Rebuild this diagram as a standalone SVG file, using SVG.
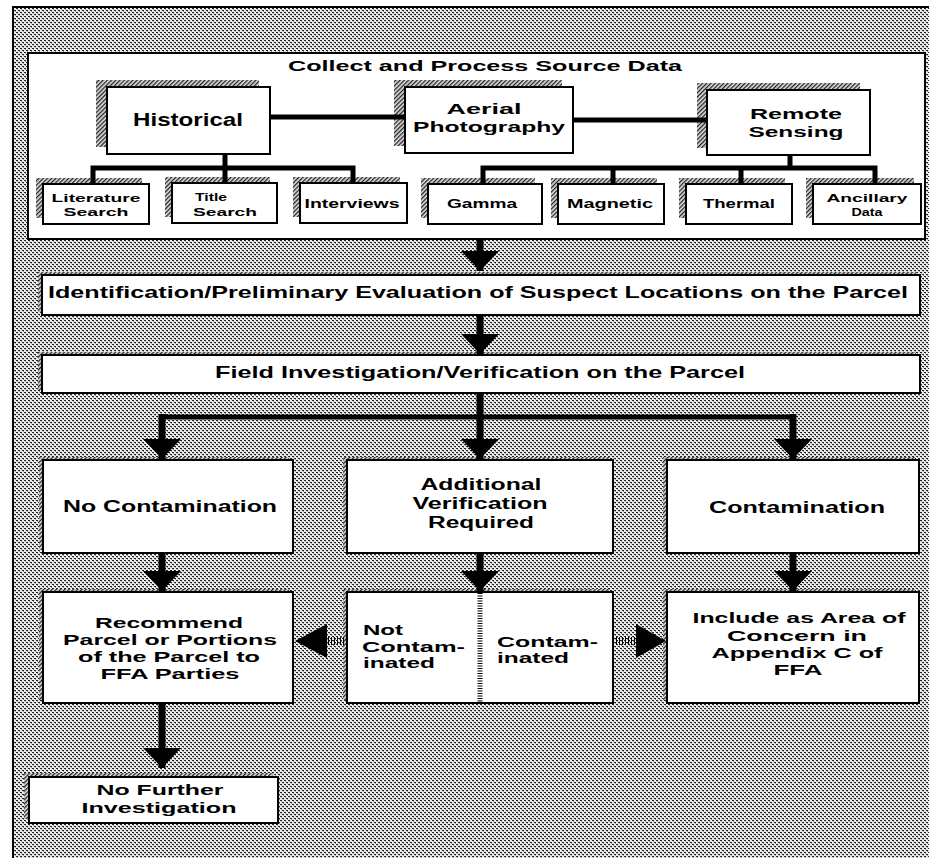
<svg xmlns="http://www.w3.org/2000/svg" width="929" height="858" viewBox="0 0 929 858">
<defs>
<pattern id="dots" width="4" height="4" patternUnits="userSpaceOnUse">
<rect width="4" height="4" fill="#ececec"/>
<rect x="0" y="0" width="2" height="1" fill="#222"/>
<rect x="2" y="2" width="2" height="1" fill="#222"/>
<rect x="1" y="1" width="1" height="1" fill="#999"/>
<rect x="3" y="3" width="1" height="1" fill="#999"/>
</pattern>
<pattern id="hatch" width="3" height="3" patternUnits="userSpaceOnUse" patternTransform="rotate(45)">
<rect width="3" height="3" fill="#e0e0e0"/>
<rect width="1.3" height="3" fill="#222"/>
</pattern>
<marker id="ah" viewBox="0 0 20 38" refX="20" refY="19" markerWidth="20" markerHeight="38" markerUnits="userSpaceOnUse" orient="auto">
<path d="M0,0 L20,19 L0,38 Z" fill="#000"/>
</marker>
</defs>
<style>
.box{fill:#fff;stroke:#000;stroke-width:2}
.sh{fill:url(#hatch)}
.t{font-family:"Liberation Sans",Arial,sans-serif;font-weight:bold;fill:#000;text-anchor:middle}
.tl{font-family:"Liberation Sans",Arial,sans-serif;font-weight:bold;fill:#000}
.ln{fill:none;stroke:#000;stroke-width:5}
.ar{fill:none;stroke:#000;stroke-width:7}
.dot{fill:none;stroke:#000;stroke-width:8;stroke-dasharray:1 2}
</style>
<rect x="0" y="0" width="929" height="858" fill="#fff"/>
<rect x="13" y="7" width="920" height="860" fill="url(#dots)" stroke="#000" stroke-width="2"/>

<g id="source-data">
<rect x="28" y="53" width="897" height="186" class="box"/>
<text x="485" y="71" class="t" font-size="15.5" textLength="394" lengthAdjust="spacingAndGlyphs">Collect and Process Source Data</text>
</g>

<g id="historical">
<rect x="96" y="80" width="163" height="67" class="sh"/>
<rect x="107" y="87" width="163" height="67" class="box"/>
<text x="188" y="126" class="t" font-size="17.5" textLength="110" lengthAdjust="spacingAndGlyphs">Historical</text>
</g>
<g id="aerial">
<rect x="394" y="80" width="168" height="66" class="sh"/>
<rect x="405" y="87" width="168" height="66" class="box"/>
<text x="484" y="114" class="t" font-size="15.5" textLength="75" lengthAdjust="spacingAndGlyphs">Aerial</text>
<text x="489" y="132" class="t" font-size="15.5" textLength="152" lengthAdjust="spacingAndGlyphs">Photography</text>
</g>
<g id="remote">
<rect x="697" y="83" width="163" height="65" class="sh"/>
<rect x="707" y="90" width="163" height="65" class="box"/>
<text x="796" y="119" class="t" font-size="15.5" textLength="92" lengthAdjust="spacingAndGlyphs">Remote</text>
<text x="796" y="137" class="t" font-size="15.5" textLength="95" lengthAdjust="spacingAndGlyphs">Sensing</text>
</g>

<g id="literature">
<rect x="36" y="178" width="106" height="40" class="sh"/>
<rect x="43" y="184" width="106" height="40" class="box"/>
<text x="96" y="202" class="t" font-size="11.5" textLength="89" lengthAdjust="spacingAndGlyphs">Literature</text>
<text x="96" y="216" class="t" font-size="11.5" textLength="65" lengthAdjust="spacingAndGlyphs">Search</text>
</g>
<g id="title">
<rect x="165" y="177" width="105" height="40" class="sh"/>
<rect x="172" y="183" width="105" height="40" class="box"/>
<text x="211" y="201" class="t" font-size="11.5" textLength="32" lengthAdjust="spacingAndGlyphs">Title</text>
<text x="225" y="216" class="t" font-size="11.5" textLength="64" lengthAdjust="spacingAndGlyphs">Search</text>
</g>
<g id="interviews">
<rect x="293" y="177" width="107" height="40" class="sh"/>
<rect x="300" y="183" width="107" height="40" class="box"/>
<text x="352" y="208" class="t" font-size="12.5" textLength="95" lengthAdjust="spacingAndGlyphs">Interviews</text>
</g>
<g id="gamma">
<rect x="421" y="178" width="114" height="40" class="sh"/>
<rect x="428" y="184" width="114" height="40" class="box"/>
<text x="482" y="208" class="t" font-size="12.5" textLength="70" lengthAdjust="spacingAndGlyphs">Gamma</text>
</g>
<g id="magnetic">
<rect x="551" y="178" width="106" height="40" class="sh"/>
<rect x="558" y="184" width="106" height="40" class="box"/>
<text x="610" y="208" class="t" font-size="12.5" textLength="86" lengthAdjust="spacingAndGlyphs">Magnetic</text>
</g>
<g id="thermal">
<rect x="679" y="178" width="106" height="40" class="sh"/>
<rect x="686" y="184" width="106" height="40" class="box"/>
<text x="739" y="208" class="t" font-size="12.5" textLength="72" lengthAdjust="spacingAndGlyphs">Thermal</text>
</g>
<g id="ancillary">
<rect x="806" y="178" width="108" height="40" class="sh"/>
<rect x="813" y="184" width="108" height="40" class="box"/>
<text x="867" y="202" class="t" font-size="11.5" textLength="81" lengthAdjust="spacingAndGlyphs">Ancillary</text>
<text x="867" y="216" class="t" font-size="11.5" textLength="31" lengthAdjust="spacingAndGlyphs">Data</text>
</g>

<g id="identification">
<rect x="38" y="272" width="878" height="40" class="sh"/>
<rect x="42" y="275" width="878" height="40" class="box"/>
<text x="478" y="298" class="t" font-size="16.5" textLength="860" lengthAdjust="spacingAndGlyphs">Identification/Preliminary Evaluation of Suspect Locations on the Parcel</text>
</g>
<g id="field">
<rect x="38" y="352" width="878" height="38" class="sh"/>
<rect x="42" y="355" width="878" height="38" class="box"/>
<text x="480" y="378" class="t" font-size="16.5" textLength="530" lengthAdjust="spacingAndGlyphs">Field Investigation/Verification on the Parcel</text>
</g>

<g id="no-contamination">
<rect x="39" y="457" width="250" height="93" class="sh"/>
<rect x="43" y="460" width="250" height="93" class="box"/>
<text x="170" y="512" class="t" font-size="16" textLength="214" lengthAdjust="spacingAndGlyphs">No Contamination</text>
</g>
<g id="additional">
<rect x="343" y="457" width="266" height="93" class="sh"/>
<rect x="347" y="460" width="266" height="93" class="box"/>
<text x="481" y="490" class="t" font-size="16" textLength="121" lengthAdjust="spacingAndGlyphs">Additional</text>
<text x="480" y="509" class="t" font-size="16" textLength="135" lengthAdjust="spacingAndGlyphs">Verification</text>
<text x="481" y="528" class="t" font-size="16" textLength="106" lengthAdjust="spacingAndGlyphs">Required</text>
</g>
<g id="contamination">
<rect x="663" y="457" width="252" height="93" class="sh"/>
<rect x="667" y="460" width="252" height="93" class="box"/>
<text x="797" y="513" class="t" font-size="16" textLength="176" lengthAdjust="spacingAndGlyphs">Contamination</text>
</g>

<g id="recommend">
<rect x="39" y="589" width="250" height="111" class="sh"/>
<rect x="43" y="592" width="250" height="111" class="box"/>
<text x="169" y="628" class="t" font-size="15" textLength="148" lengthAdjust="spacingAndGlyphs">Recommend</text>
<text x="170" y="645" class="t" font-size="15" textLength="214" lengthAdjust="spacingAndGlyphs">Parcel or Portions</text>
<text x="169" y="662" class="t" font-size="15" textLength="182" lengthAdjust="spacingAndGlyphs">of the Parcel to</text>
<text x="170" y="679" class="t" font-size="15" textLength="139" lengthAdjust="spacingAndGlyphs">FFA Parties</text>
</g>
<g id="verification-result">
<rect x="343" y="589" width="266" height="111" class="sh"/>
<rect x="347" y="592" width="266" height="111" class="box"/>
<line x1="480" y1="593" x2="480" y2="702" stroke="#000" stroke-width="5" stroke-dasharray="1 1.5"/>
<text x="363" y="635" class="tl" font-size="15.5" textLength="40" lengthAdjust="spacingAndGlyphs">Not</text>
<text x="362" y="652" class="tl" font-size="15.5" textLength="103" lengthAdjust="spacingAndGlyphs">Contam-</text>
<text x="363" y="668" class="tl" font-size="15.5" textLength="72" lengthAdjust="spacingAndGlyphs">inated</text>
<text x="497" y="647" class="tl" font-size="15.5" textLength="101" lengthAdjust="spacingAndGlyphs">Contam-</text>
<text x="497" y="663" class="tl" font-size="15.5" textLength="72" lengthAdjust="spacingAndGlyphs">inated</text>
</g>
<g id="include">
<rect x="663" y="589" width="252" height="111" class="sh"/>
<rect x="667" y="592" width="252" height="111" class="box"/>
<text x="799" y="623" class="t" font-size="15" textLength="213" lengthAdjust="spacingAndGlyphs">Include as Area of</text>
<text x="797" y="641" class="t" font-size="15" textLength="140" lengthAdjust="spacingAndGlyphs">Concern  in</text>
<text x="797" y="658" class="t" font-size="15" textLength="171" lengthAdjust="spacingAndGlyphs">Appendix C of</text>
<text x="798" y="675" class="t" font-size="15" textLength="49" lengthAdjust="spacingAndGlyphs">FFA</text>
</g>
<g id="no-further">
<rect x="24" y="773" width="249" height="46" class="sh"/>
<rect x="29" y="777" width="249" height="46" class="box"/>
<text x="160" y="795" class="t" font-size="15.5" textLength="127" lengthAdjust="spacingAndGlyphs">No Further</text>
<text x="159" y="813" class="t" font-size="15.5" textLength="155" lengthAdjust="spacingAndGlyphs">Investigation</text>
</g>

<g id="connectors">
<path class="ln" d="M270,117 H405 M573,120 H707"/>
<path class="ln" d="M225,154 V168 M93,183 V168 H353 V183 M225,168 V183"/>
<path class="ln" d="M790,155 V168 M483,184 V168 H875 V184 M613,168 V184 M741,168 V184"/>
<path class="ar" d="M480,240 V271" marker-end="url(#ah)"/>
<path class="ar" d="M480,315 V354" marker-end="url(#ah)"/>
<path class="ar" d="M480,393 V459" marker-end="url(#ah)"/>
<path class="ln" d="M162,417 H793" stroke-width="6"/>
<path class="ar" d="M162,414 V459" marker-end="url(#ah)"/>
<path class="ar" d="M793,414 V459" marker-end="url(#ah)"/>
<path class="ar" d="M162,553 V591" marker-end="url(#ah)"/>
<path class="ar" d="M480,553 V591" marker-end="url(#ah)"/>
<path class="ar" d="M793,553 V591" marker-end="url(#ah)"/>
<path class="ar" d="M162,703 V768" marker-end="url(#ah)"/>
<path class="dot" d="M347,641 H327"/>
<path d="M327,624 L295,641 L327,658 Z" fill="#000"/>
<path class="dot" d="M613,641 H636"/>
<path d="M636,624 L666,641 L636,658 Z" fill="#000"/>
</g>
</svg>
